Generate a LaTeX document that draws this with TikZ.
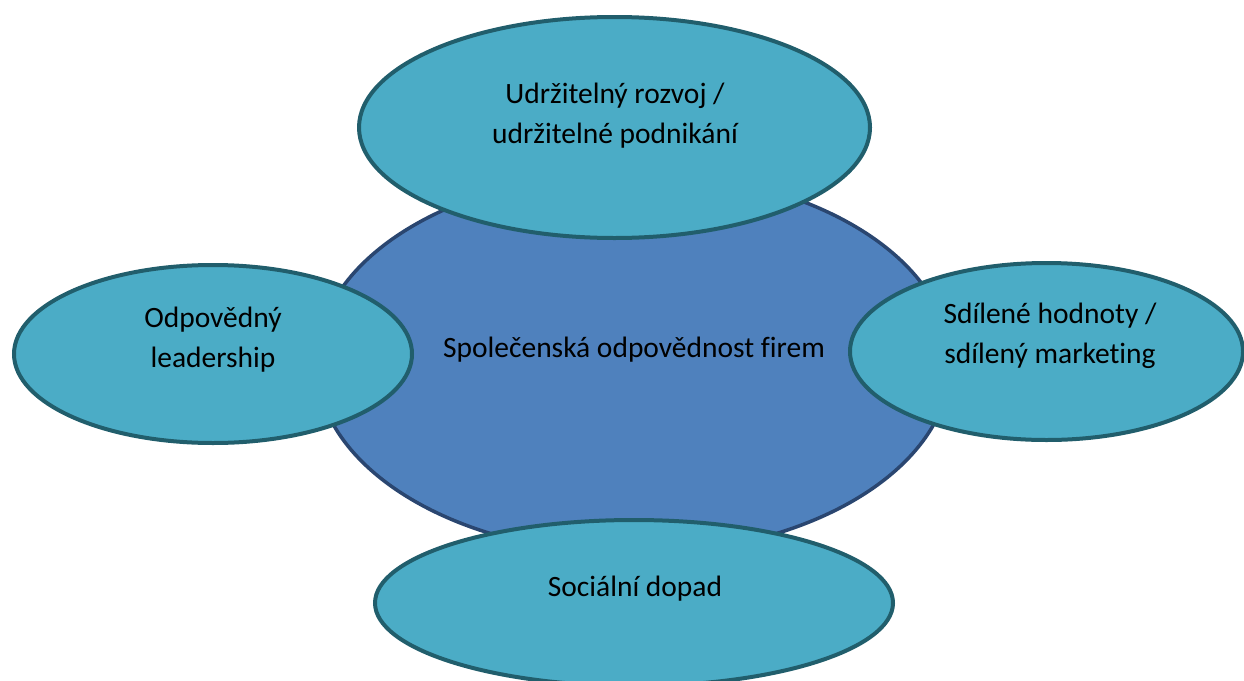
\documentclass[tikz,border=0pt]{standalone}
\usepackage{fontspec}
\setmainfont[Ligatures=NoCommon]{Carlito}
\usetikzlibrary{shapes.geometric}
\definecolor{coreFill}{HTML}{4F81BD}
\definecolor{coreLine}{HTML}{2A4670}
\definecolor{petalFill}{HTML}{4BACC6}
\definecolor{petalLine}{HTML}{215E6C}
\tikzset{
  core/.style={ellipse, draw=coreLine, fill=coreFill, line width=3.5pt, inner sep=0pt},
  petal/.style={ellipse, draw=petalLine, fill=petalFill, line width=4pt, inner sep=0pt},
  caption/.style={align=center, font=\fontsize{29.5}{40}\selectfont, inner sep=0pt, text=black}
}
\begin{document}
\begin{tikzpicture}[x=1pt, y=-1pt]
  \useasboundingbox (0,0) rectangle (1244,680);
  % central ellipse
  \node[core, minimum width=634pt, minimum height=382pt] (csr) at (633.5,363) {};
  % surrounding ellipses
  \node[petal, minimum width=511pt, minimum height=221pt] (top) at (614.5,127.5) {};
  \node[petal, minimum width=398pt, minimum height=178pt] (left) at (213,354) {};
  \node[petal, minimum width=393pt, minimum height=177pt] (right) at (1046.5,351.5) {};
  \node[petal, minimum width=518pt, minimum height=166pt] (bottom) at (634,603) {};
  % texts
  \node[caption] (tcsr) at (634,350) {Společenská odpovědnost firem};
  \node[caption] (ttop) at (615,116) {Udržitelný rozvoj /\\udržitelné podnikání};
  \node[caption] (tleft) at (213,340) {Odpovědný\\leadership};
  \node[caption] (tright) at (1050,336) {Sdílené hodnoty /\\sdílený marketing};
  \node[caption] (tbottom) at (635,589) {Sociální dopad};
\end{tikzpicture}
\end{document}
